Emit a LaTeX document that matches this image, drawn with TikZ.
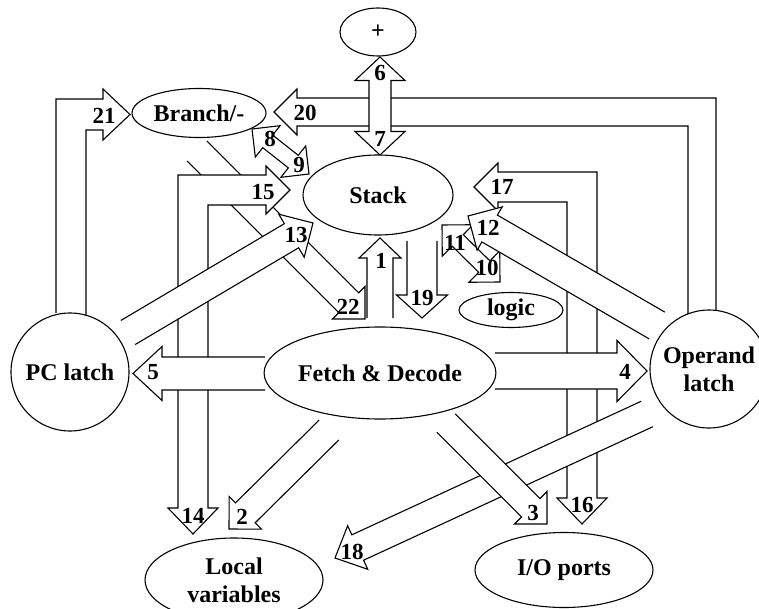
\documentclass[tikz,border=0pt]{standalone}
\usepackage{fontspec}
\setmainfont{Liberation Serif}
\usetikzlibrary{calc,shapes.geometric}

\tikzset{
  blk/.style={fill=white, draw=black, line width=1.1pt, line join=miter},
  unit/.style={draw=black, fill=white, line width=1.1pt, inner sep=0pt, align=center,
               font=\fontsize{24}{28}\selectfont\bfseries},
  oval/.style={unit, ellipse},
  ring/.style={unit, circle},
  num/.style={font=\fontsize{23}{24}\selectfont\bfseries, inner sep=0pt},
}

% straight block arrow: start, tip, shaft half width, head half width, head length
\newcommand{\blockarrow}[5]{%
  \coordinate (hb) at ($(#2)!#5!(#1)$);
  \filldraw[blk] ($(#1)!#3!90:(#2)$) -- ($(hb)!#3!90:(#2)$) -- ($(hb)!#4!90:(#2)$) -- (#2)
     -- ($(hb)!#4!-90:(#2)$) -- ($(hb)!#3!-90:(#2)$) -- ($(#1)!#3!-90:(#2)$);
}
% block arrow with a head at both ends
\newcommand{\twinarrow}[5]{%
  \coordinate (ha) at ($(#1)!#5!(#2)$);
  \coordinate (hz) at ($(#2)!#5!(#1)$);
  \filldraw[blk] (#1) -- ($(ha)!#4!90:(#2)$) -- ($(ha)!#3!90:(#2)$) -- ($(hz)!#3!-90:(#1)$)
     -- ($(hz)!#4!-90:(#1)$) -- (#2) -- ($(hz)!#4!90:(#1)$) -- ($(hz)!#3!90:(#1)$)
     -- ($(ha)!#3!-90:(#2)$) -- ($(ha)!#4!-90:(#2)$) -- cycle;
}

\begin{document}
\begin{tikzpicture}[x=1pt,y=-1pt]
\useasboundingbox (0,0) rectangle (759,609);
\fill[white] (0,0) rectangle (759,609);

% end points of the straight arrows
\coordinate (a1s) at (380,318);   \coordinate (a1t) at (380,238);
\coordinate (a2s) at (329,430);   \coordinate (a2t) at (229,529);
\coordinate (a3s) at (446,423);   \coordinate (a3t) at (547,524);
\coordinate (a4s) at (495,371);   \coordinate (a4t) at (647,371);
\coordinate (a5s) at (265,373.5); \coordinate (a5t) at (133,373.5);
\coordinate (a12s) at (657,325.5);\coordinate (a12t) at (468,216);
\coordinate (a13s) at (128,332.5);\coordinate (a13t) at (313,223);
\coordinate (a18s) at (647,414);  \coordinate (a18t) at (335,558);
\coordinate (a19s) at (422,241);  \coordinate (a19t) at (422,318);
\coordinate (a22s) at (197,151);  \coordinate (a22t) at (365,319);
\coordinate (t6) at (380,57);     \coordinate (t7) at (380,155);
\coordinate (t8) at (252,129);    \coordinate (t9) at (309,174);
\coordinate (t11) at (442,225);   \coordinate (t10) at (500,282);

% 22: Branch/- to Fetch & Decode
\blockarrow{a22s}{a22t}{14pt}{23pt}{23pt}
% 20: Operand latch to Branch/-
\filldraw[blk] (716,310) -- (716,98) -- (297,98) -- (297,89) -- (274,112) -- (297,135)
   -- (297,126) -- (688,126) -- (688,314);
% 8/9: Branch/- and Stack
\twinarrow{t8}{t9}{8pt}{20pt}{20pt}
% 6/7: + and Stack
\twinarrow{t6}{t7}{11pt}{25pt}{23.5pt}
% 21: PC latch to Branch/-
\filldraw[blk] (56,313) -- (56,99) -- (103,99) -- (103,89) -- (130,114.5) -- (103,140)
   -- (103,130) -- (86,130) -- (86,316);
% 14/15: Local variables and Stack
\filldraw[blk] (266,175) -- (178,175) -- (178,508) -- (168,508) -- (193,534) -- (218,508)
   -- (208,508) -- (208,205) -- (266,205) -- (266,214) -- (290,190) -- (266,166) -- cycle;
% 13: PC latch to Stack
\blockarrow{a13s}{a13t}{14pt}{25pt}{25pt}
% 5: Fetch & Decode to PC latch
\blockarrow{a5s}{a5t}{16.5pt}{27pt}{29pt}
% 2: Fetch & Decode to Local variables
\blockarrow{a2s}{a2t}{14pt}{23pt}{23pt}
% 10/11: Stack and logic
\twinarrow{t11}{t10}{8pt}{22pt}{22pt}
% 16/17: I/O ports and Stack
\filldraw[blk] (498,172) -- (597,172) -- (597,498) -- (607,498) -- (582,524) -- (557,498)
   -- (567,498) -- (567,202) -- (498,202) -- (498,211) -- (474,187) -- (498,163) -- cycle;
% 12: Operand latch to Stack
\blockarrow{a12s}{a12t}{15.5pt}{25pt}{25pt}
% 18: Operand latch to Local variables
\blockarrow{a18s}{a18t}{14pt}{24pt}{25pt}
% 3: Fetch & Decode to I/O ports
\blockarrow{a3s}{a3t}{13pt}{23pt}{23pt}
% 4: Fetch & Decode to Operand latch
\blockarrow{a4s}{a4t}{18pt}{30.5pt}{30pt}
% 1: Fetch & Decode to Stack
\blockarrow{a1s}{a1t}{13pt}{21pt}{20pt}
% 19: Stack to Fetch & Decode
\blockarrow{a19s}{a19t}{15pt}{25.5pt}{23pt}

% units
\node[oval, minimum width=76pt, minimum height=48pt] (plus) at (378,32) {+};
\node[oval, minimum width=134pt, minimum height=49pt] (branch) at (199,113) {Branch/-};
\node[oval, minimum width=150pt, minimum height=80pt] (stack) at (378,195) {Stack};
\node[oval, minimum width=104pt, minimum height=35pt] (logic) at (511,310) {logic};
\node[oval, minimum width=220pt, minimum height=92pt] (fetch) at (380,373) {Fetch \& Decode};
\node[ring, minimum size=118pt] (pcl) at (70,372) {PC latch};
\node[ring, minimum size=118pt] (opl) at (709,369) {Operand\\latch};
\node[oval, minimum width=178pt, minimum height=84pt] (local) at (234,580) {Local\\variables};
\node[oval, minimum width=178pt, minimum height=75pt] (io) at (564,570) {I/O ports};

% arrow numbers
\node[num] (n1) at (381,261) {1};
\node[num] (n2) at (242,517) {2};
\node[num] (n3) at (533,513) {3};
\node[num] (n4) at (625,372) {4};
\node[num] (n5) at (153,372) {5};
\node[num] (n6) at (380,73) {6};
\node[num] (n7) at (380,139) {7};
\node[num] (n8) at (270,139) {8};
\node[num] (n9) at (299,165) {9};
\node[num] (n10) at (487,268) {10};
\node[num] (n11) at (455,243) {11};
\node[num] (n12) at (488,228) {12};
\node[num] (n13) at (296,235) {13};
\node[num] (n14) at (193,516) {14};
\node[num] (n15) at (263,192) {15};
\node[num] (n16) at (582,505) {16};
\node[num] (n17) at (502,187) {17};
\node[num] (n18) at (352,552) {18};
\node[num] (n19) at (422,298) {19};
\node[num] (n20) at (305,113) {20};
\node[num] (n21) at (104,116) {21};
\node[num] (n22) at (348,307) {22};
\end{tikzpicture}
\end{document}
